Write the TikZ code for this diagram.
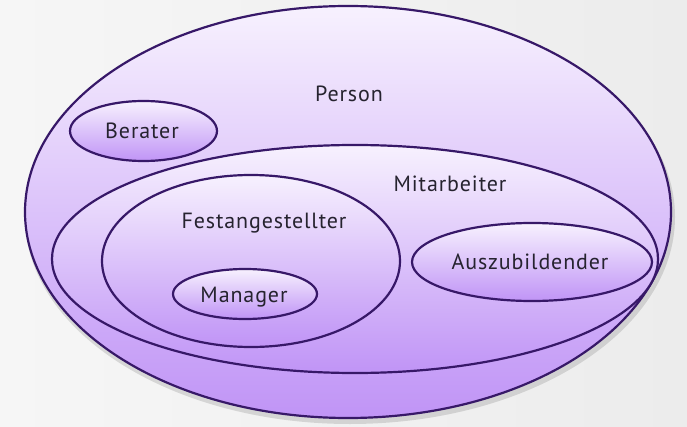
\documentclass[tikz,border=0pt]{standalone}
\usepackage{fontspec}
\setmainfont[LetterSpace=4]{PT Sans}
\usetikzlibrary{shadows}
\definecolor{bgl}{HTML}{F6F6F6}
\definecolor{bgr}{HTML}{ECECEC}
\definecolor{edge}{HTML}{371868}
\definecolor{lavtop}{HTML}{F7F1FE}
\definecolor{lavmid}{HTML}{E4D2FA}
\definecolor{lavbot}{HTML}{C094F6}
\definecolor{txt}{HTML}{26232F}
\tikzset{
  setbox/.style={draw=edge, line width=2.2pt, top color=lavtop, middle color=lavmid, bottom color=lavbot},
  lbl/.style={font=\fontsize{22}{26}\selectfont, text=txt, inner sep=0pt},
}
\begin{document}
\begin{tikzpicture}[x=1pt,y=1pt]
\useasboundingbox (0,0) rectangle (687,426);
\shade[left color=bgl, right color=bgr] (0,0) rectangle (687,426);
% shadow
\fill[black, opacity=0.12] (350,209) ellipse [x radius=325, y radius=207];
% sets
\draw[setbox] (348,214) ellipse [x radius=323, y radius=206];
\draw[setbox] (143.5,295) ellipse [x radius=73.5, y radius=30];
\draw[setbox] (355,167) ellipse [x radius=303, y radius=114];
\draw[setbox] (251,165) ellipse [x radius=149, y radius=86];
\draw[setbox] (245,132) ellipse [x radius=72, y radius=25];
\draw[setbox] (532,164) ellipse [x radius=120, y radius=39];
% labels
\node[lbl] (person) at (349,332) {Person};
\node[lbl] (berater) at (142,295) {Berater};
\node[lbl] (mitarbeiter) at (450,242) {Mitarbeiter};
\node[lbl] (fest) at (264,203) {Festangestellter};
\node[lbl] (manager) at (244,129) {Manager};
\node[lbl] (azubi) at (530,164) {Auszubildender};
\end{tikzpicture}
\end{document}
